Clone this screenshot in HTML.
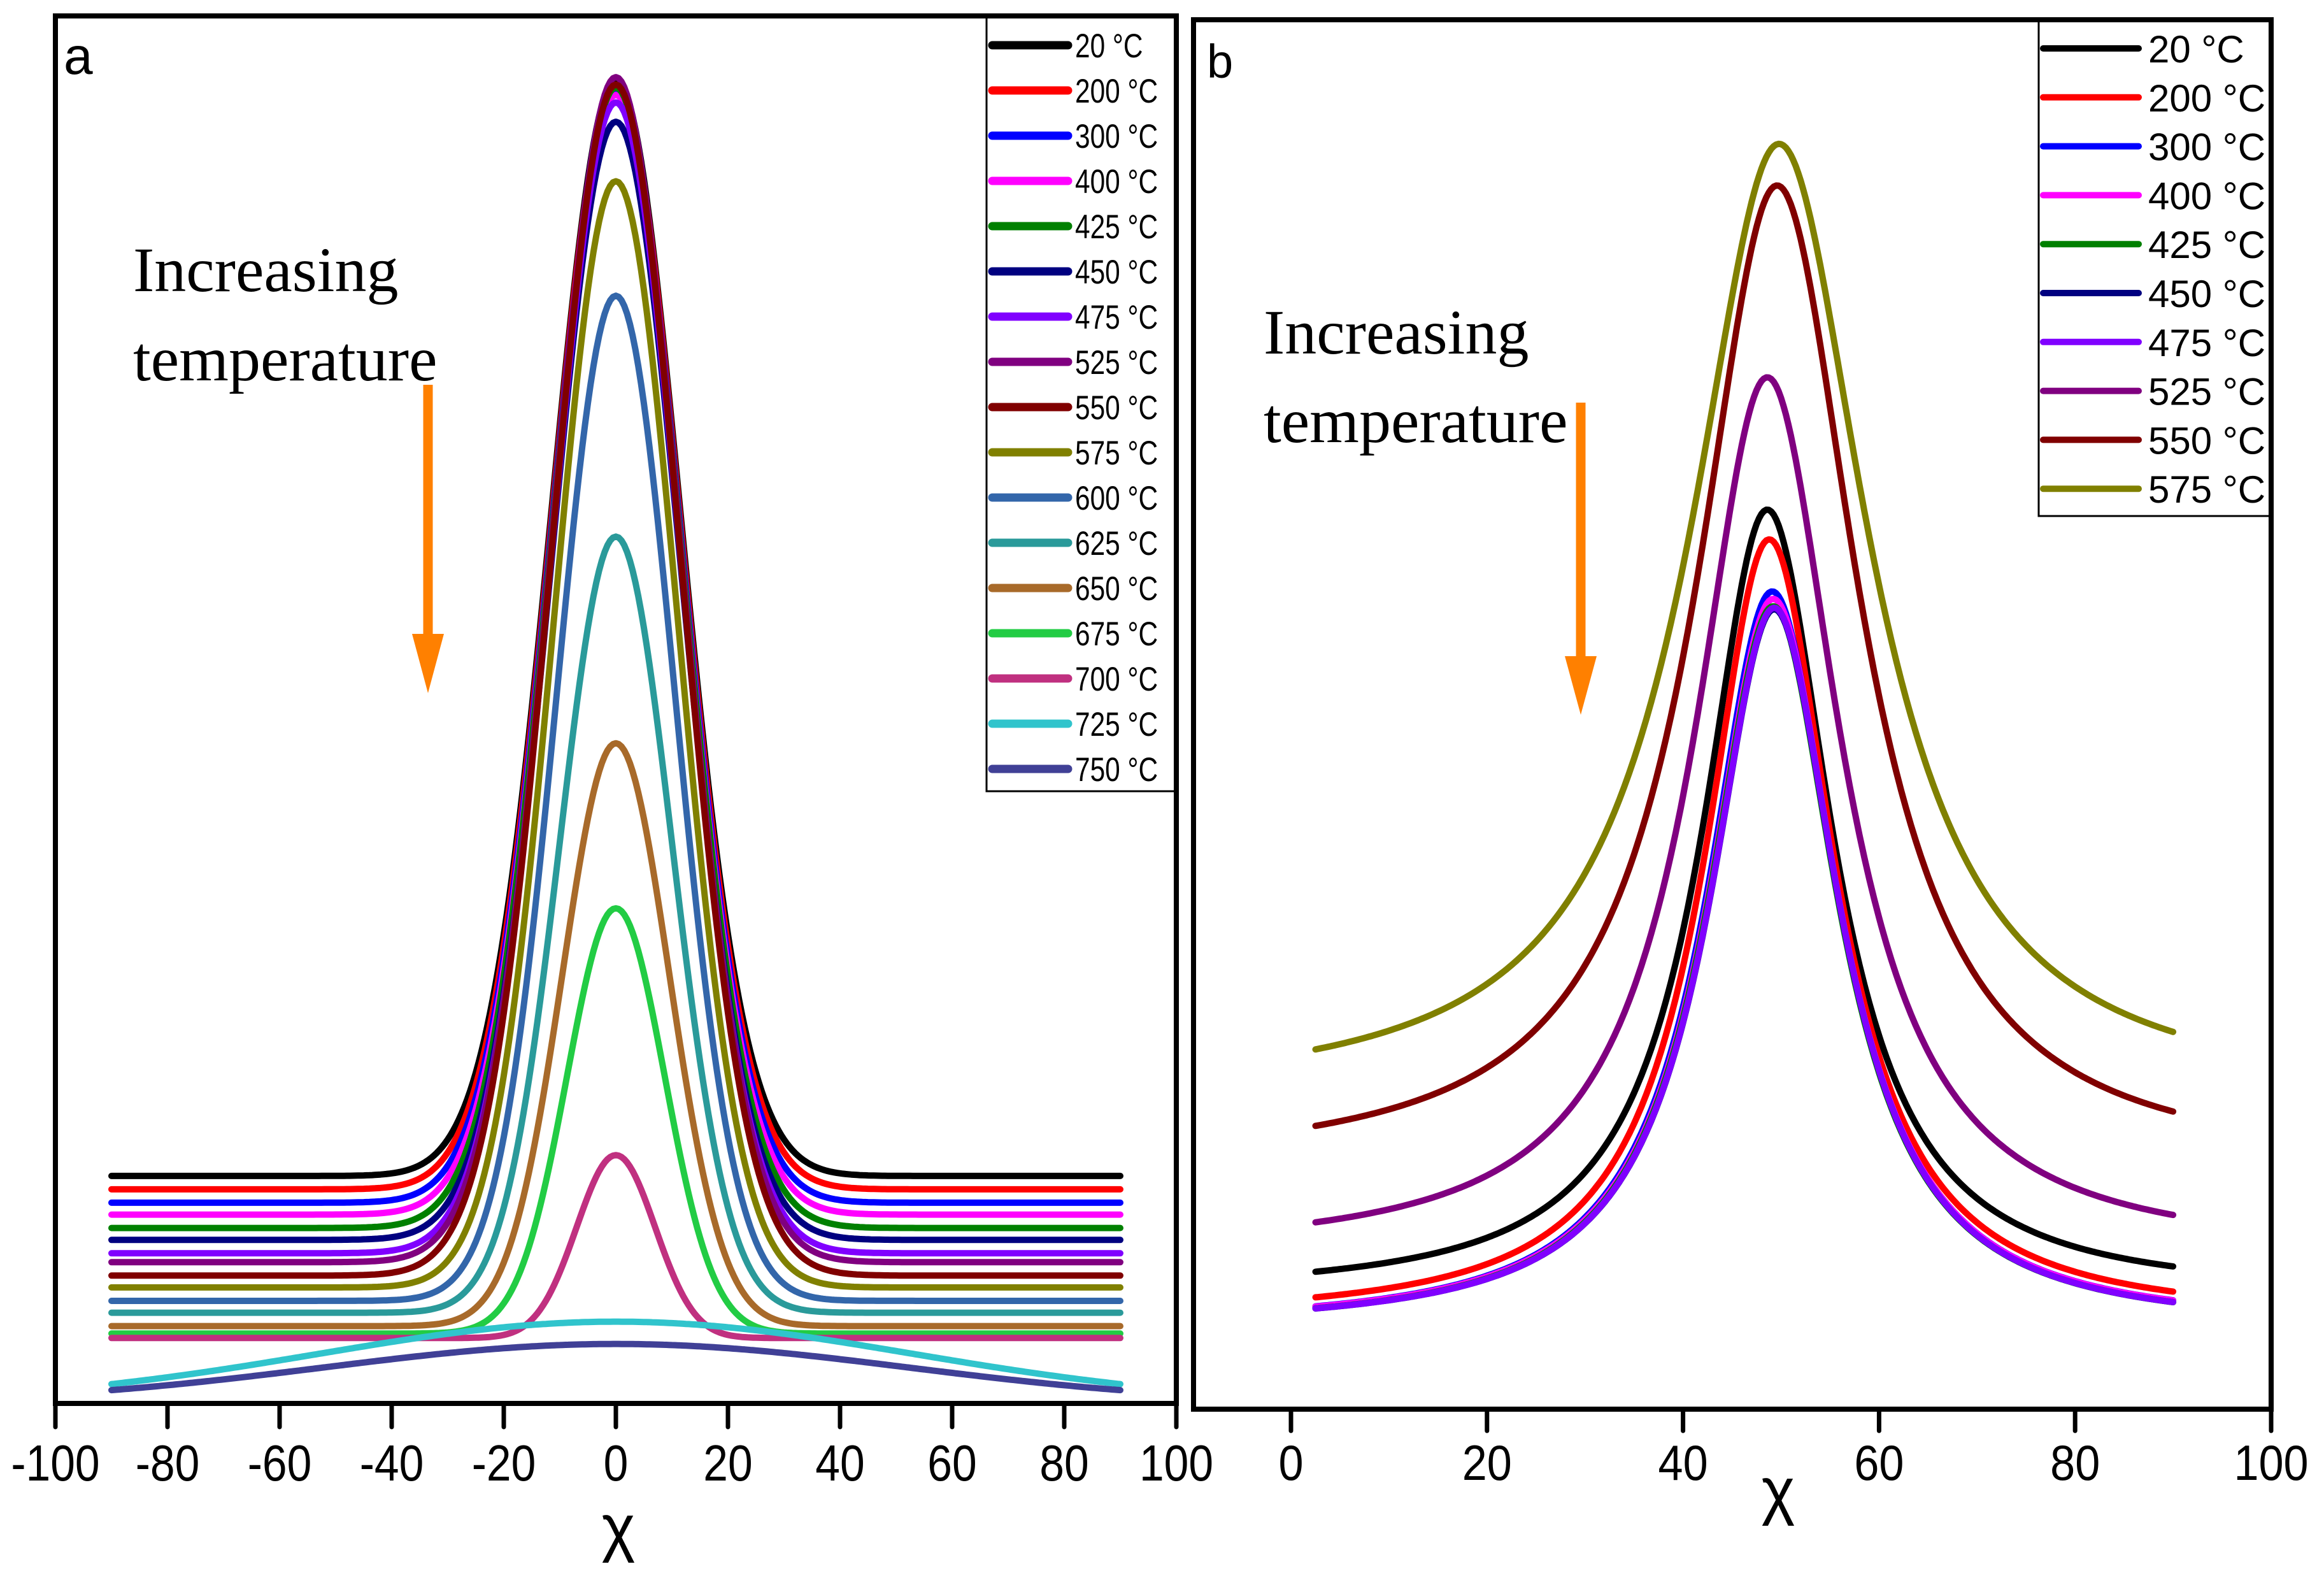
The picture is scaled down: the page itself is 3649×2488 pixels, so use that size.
<!DOCTYPE html>
<html><head><meta charset="utf-8"><style>
html,body{margin:0;padding:0;background:#fff;}
svg{display:block;}
</style></head><body>
<svg id="fig" width="3649" height="2488" viewBox="0 0 3649 2488" xmlns="http://www.w3.org/2000/svg">
<rect x="0" y="0" width="3649" height="2488" fill="#fff"/>
</svg>
<script>
// ---- Panel a data (Gaussian parameters, intensity a.u.) ----
const labelsA = ["20 °C","200 °C","300 °C","400 °C","425 °C","450 °C","475 °C","525 °C","550 °C","575 °C","600 °C","625 °C","650 °C","675 °C","700 °C","725 °C","750 °C"];
const colorsA = ["#000000","#ff0000","#0000ff","#ff00ff","#008000","#000080","#8000ff","#800080","#800000","#808000","#3366aa","#2a9a9a","#a86a2a","#22cc44","#c03080","#30c4cc","#404096"];
const baseA = [153,144,135,127,118,110,101,95,86,78,69,61,52,47,44,0,0];
const peakA = [890,887,883,880,885,862,875,892,887,822,745,583,444,333,167,55,40];
const widthA = [11.5,11.5,11.5,11.5,11.5,11.5,11.5,11.5,11.5,11,10.5,10,9.5,8.7,7,53,52];
const ticksA = [-100,-80,-60,-40,-20,0,20,40,60,80,100];
// ---- Panel b data (Lorentzian parameters) ----
const labelsB = ["20 °C","200 °C","300 °C","400 °C","425 °C","450 °C","475 °C","525 °C","550 °C","575 °C"];
const colorsB = ["#000000","#ff0000","#0000ff","#ff00ff","#008000","#000080","#8000ff","#800080","#800000","#808000"];
const baseB = [77,60,55,55,54,54,54,104,162,209];
const peakB = [605,585,550,545,540,538,539,694,823,851];
const centerB = [48.6,48.8,49.1,49.2,49.2,49.3,49.3,48.6,49.6,49.8];
const widthB = [8,8,8,8,8,8,8,9,10,11];
const ticksB = [0,20,40,60,80,100];

const NS="http://www.w3.org/2000/svg";
const svg=document.getElementById('fig');
function el(tag,attrs,parent){const e=document.createElementNS(NS,tag);for(const k in attrs)e.setAttribute(k,attrs[k]);(parent||svg).appendChild(e);return e;}

const xA=v=>87+(v+100)*(1760/200);
const yA=v=>2203-v*2.334;
const xB=v=>2027+v*(1539/100);
const yB=v=>2212-v*2.334;

// ===== Panel A =====
const gA=el('g',{});


for(let i=0;i<labelsA.length;i++){
  let d='';
  for(let x=-90;x<=90;x+=0.5){
    const v=baseA[i]+(peakA[i]-baseA[i])*Math.exp(-x*x/(2*widthA[i]*widthA[i]));
    d+=(x===-90?'M':'L')+xA(x).toFixed(1)+' '+yA(v).toFixed(1);
  }
  const p=el('path',{d:d,fill:'none',stroke:colorsA[i],'stroke-width':10,'stroke-linecap':'round','stroke-linejoin':'round'},gA);
  
  
}
const frA=el('rect',{x:87,y:25,width:1760,height:2178,fill:'none',stroke:'#000','stroke-width':8},gA);


for(const t of ticksA){
  const tk=el('line',{x1:xA(t),y1:2207,x2:xA(t),y2:2240,stroke:'#000','stroke-width':7,'stroke-linecap':'round'},gA);
  
  
  const tl=el('text',{transform:`translate(${xA(t)},2324) scale(0.87,1)`,'text-anchor':'middle','font-family':'Liberation Sans, sans-serif','font-size':80},gA);
  tl.textContent=String(t);
  
  
}
const lgA=el('g',{},gA);


el('rect',{x:1549,y:27,width:299,height:1215,fill:'#fff',stroke:'#000','stroke-width':3},lgA);
for(let i=0;i<labelsA.length;i++){
  const y=71+i*71;
  const ln=el('line',{x1:1558,y1:y,x2:1677,y2:y,stroke:colorsA[i],'stroke-width':13,'stroke-linecap':'round'},lgA);
  
  
  const tx=el('text',{transform:`translate(1688,${y+19}) scale(0.8,1)`,'font-family':'Liberation Sans, sans-serif','font-size':53},lgA);
  tx.textContent=labelsA[i];
  
  
}
el('rect',{x:87,y:25,width:1760,height:2178,fill:'none',stroke:'#000','stroke-width':8},gA);

// ===== Panel B =====
const gB=el('g',{});


for(let i=0;i<labelsB.length;i++){
  let d='';
  for(let x=2.5;x<=90.01;x+=0.25){
    const u=(x-centerB[i])/widthB[i];
    const v=baseB[i]+(peakB[i]-baseB[i])/(1+u*u);
    d+=(x===2.5?'M':'L')+xB(x).toFixed(1)+' '+yB(v).toFixed(1);
  }
  const p=el('path',{d:d,fill:'none',stroke:colorsB[i],'stroke-width':10,'stroke-linecap':'round','stroke-linejoin':'round'},gB);
  
  
}
const frB=el('rect',{x:1874,y:31,width:1692,height:2181,fill:'none',stroke:'#000','stroke-width':8},gB);


for(const t of ticksB){
  const tk=el('line',{x1:xB(t),y1:2216,x2:xB(t),y2:2246,stroke:'#000','stroke-width':7,'stroke-linecap':'round'},gB);
  
  
  const tl=el('text',{transform:`translate(${xB(t)},2323) scale(0.9,1)`,'text-anchor':'middle','font-family':'Liberation Sans, sans-serif','font-size':78},gB);
  tl.textContent=String(t);
  
  
}
const lgB=el('g',{},gB);


el('rect',{x:3201,y:33,width:365,height:777,fill:'#fff',stroke:'#000','stroke-width':3},lgB);
for(let i=0;i<labelsB.length;i++){
  const y=76+i*76.8;
  const ln=el('line',{x1:3208,y1:y,x2:3358,y2:y,stroke:colorsB[i],'stroke-width':10,'stroke-linecap':'round'},lgB);
  
  
  const tx=el('text',{x:3373,y:y+22,'font-family':'Liberation Sans, sans-serif','font-size':60},lgB);
  tx.textContent=labelsB[i];
  
  
}
el('rect',{x:1874,y:31,width:1692,height:2181,fill:'none',stroke:'#000','stroke-width':8},gB);

function txt(name,s,attrs){const t=el('text',attrs);t.textContent=s;return t;}
txt('panel-label-a','a',{x:100,y:116,'font-family':'Liberation Sans, sans-serif','font-size':82});
txt('panel-label-b','b',{x:1895,y:122,'font-family':'Liberation Sans, sans-serif','font-size':74});
txt('x-axis-title-a','χ',{x:971,y:2432,'text-anchor':'middle','font-family':'Liberation Sans, sans-serif','font-size':100});
txt('x-axis-title-b','χ',{x:2792,y:2374,'text-anchor':'middle','font-family':'Liberation Sans, sans-serif','font-size':100});
txt('annotation-a-line1','Increasing',{x:209,y:457,'font-family':'Liberation Serif, serif','font-size':100});
txt('annotation-a-line2','temperature',{x:209,y:597,'font-family':'Liberation Serif, serif','font-size':100});
txt('annotation-b-line1','Increasing',{x:1984,y:555,'font-family':'Liberation Serif, serif','font-size':100});
txt('annotation-b-line2','temperature',{x:1984,y:694,'font-family':'Liberation Serif, serif','font-size':100});
function arrow(name,x,y1,yh,y2){
  const g=el('g',{});
  
  
  el('line',{x1:x,y1:y1,x2:x,y2:yh+5,stroke:'#ff8000','stroke-width':15},g);
  el('polygon',{points:`${x-25},${yh} ${x+25},${yh} ${x},${y2}`,fill:'#ff8000'},g);
}
arrow('arrow-a',672,604,995,1088);
arrow('arrow-b',2482,632,1030,1122);
</script>
</body></html>
